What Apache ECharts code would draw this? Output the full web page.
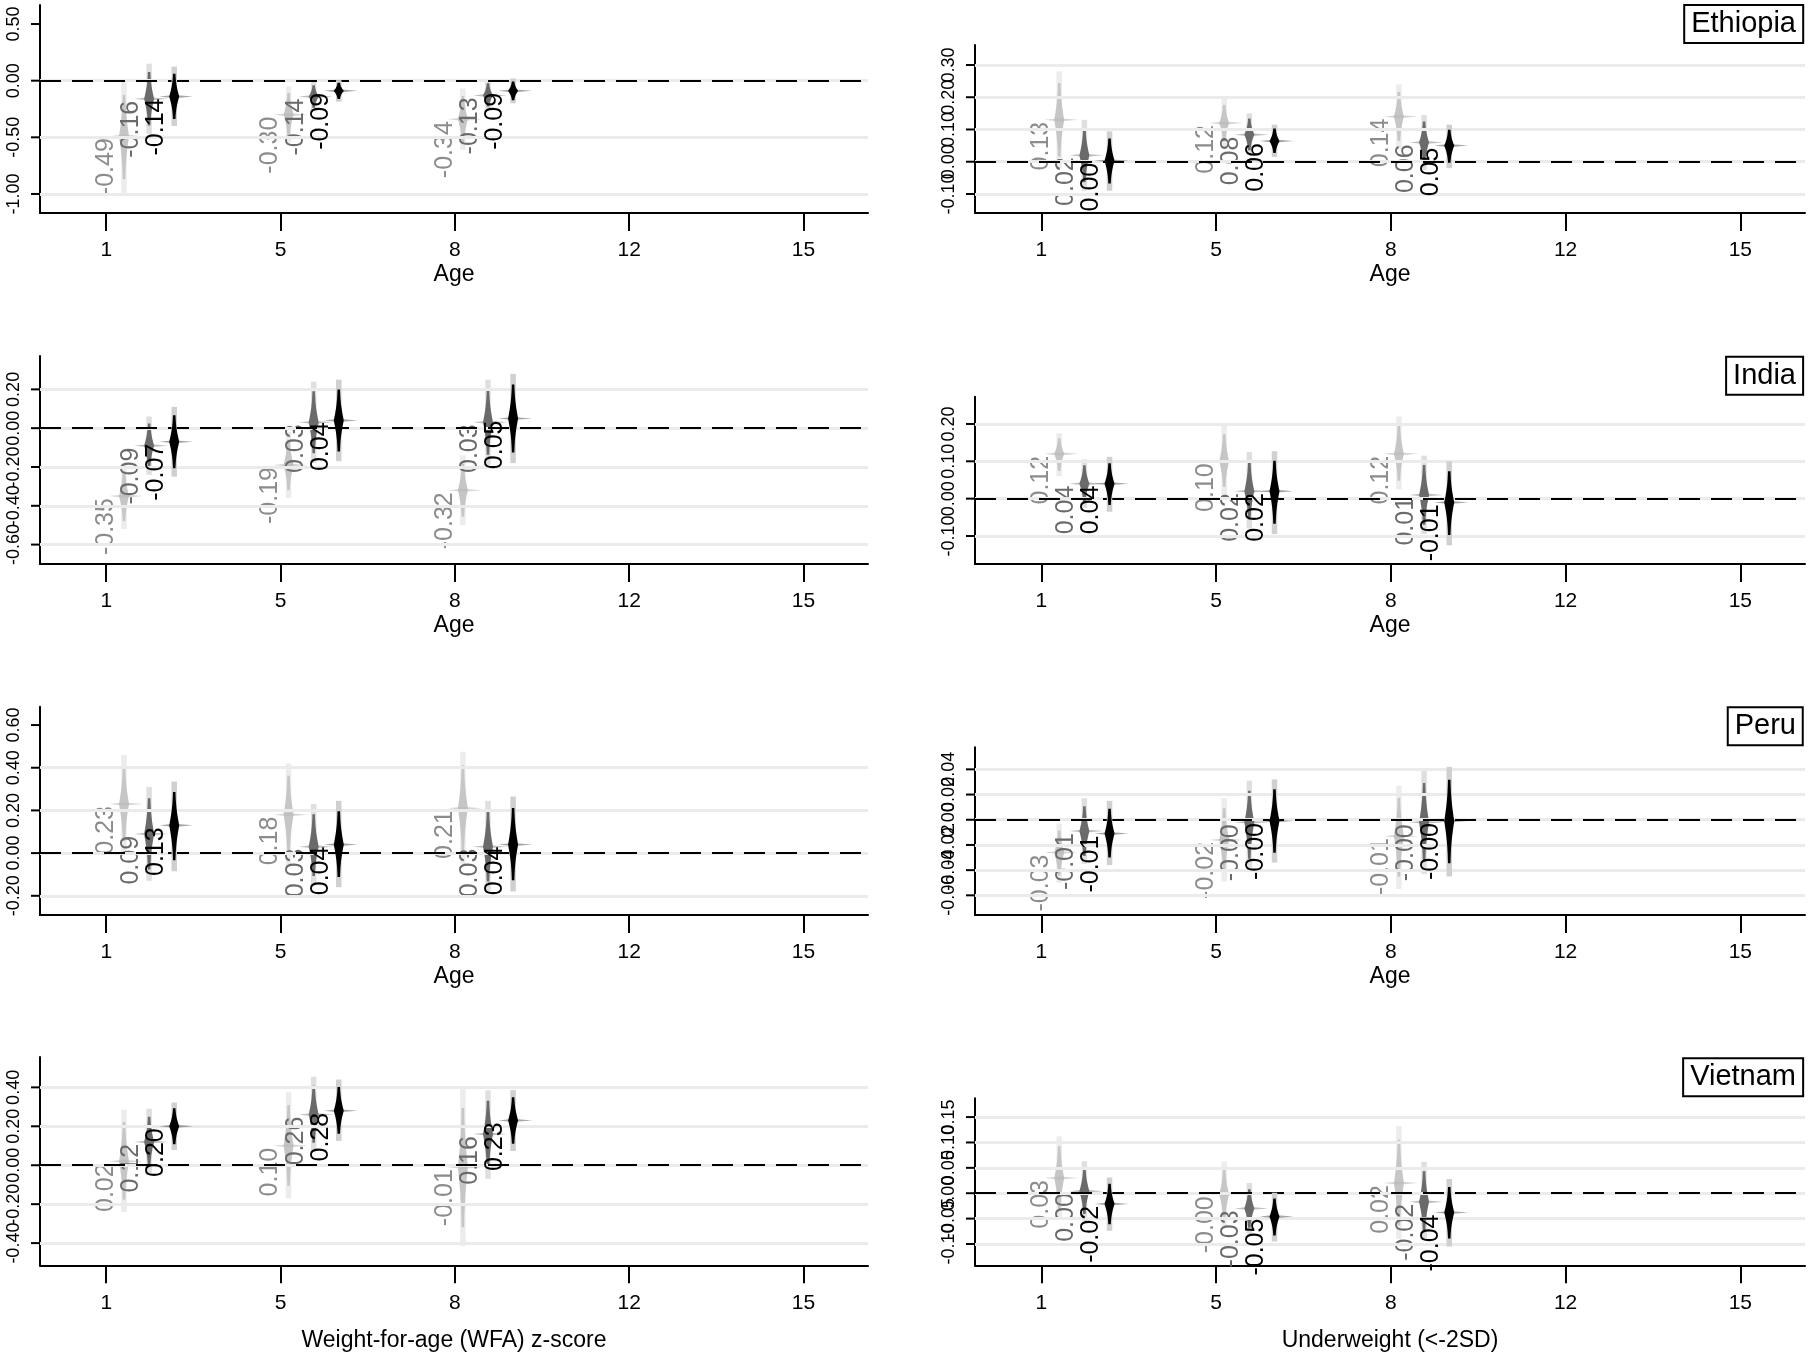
<!DOCTYPE html>
<html><head><meta charset="utf-8">
<script src="https://cdn.jsdelivr.net/npm/echarts@6/dist/echarts.min.js"></script>
<style>html,body{margin:0;padding:0;background:#fff}#main{width:1810px;height:1361px}</style>
</head><body><div id="main"></div>
<script>
// ---------------- DATA ----------------
const AGE_LABELS = ['1', '5', '8', '12', '15'];
const COUNTRIES = ['Ethiopia', 'India', 'Peru', 'Vietnam'];
const OUTCOMES = ['Weight-for-age (WFA) z-score', 'Underweight (<-2SD)'];
const SERIES_NAMES = ['Model 1', 'Model 2', 'Model 3'];

// rows: series (light, mid, dark); columns: ages 1, 5, 8
const ETH_WFA_EST = [[-0.49, -0.30, -0.34], [-0.16, -0.14, -0.13], [-0.14, -0.09, -0.09]];
const ETH_WFA_LO  = [[-0.99, -0.55, -0.61], [-0.47, -0.27, -0.26], [-0.40, -0.185, -0.20]];
const ETH_WFA_HI  = [[-0.01, -0.05, -0.07], [0.15, -0.01, 0.01], [0.124, 0.005, 0.02]];

const ETH_UW_EST = [[0.13, 0.12, 0.14], [0.02, 0.084, 0.06], [0.003, 0.064, 0.05]];
const ETH_UW_LO  = [[-0.02, 0.045, 0.04], [-0.09, 0.02, -0.025], [-0.09, 0.015, -0.02]];
const ETH_UW_HI  = [[0.28, 0.195, 0.24], [0.13, 0.15, 0.145], [0.094, 0.115, 0.115]];

const IND_WFA_EST = [[-0.35, -0.19, -0.32], [-0.09, 0.03, 0.03], [-0.07, 0.04, 0.05]];
const IND_WFA_LO  = [[-0.52, -0.36, -0.50], [-0.24, -0.18, -0.19], [-0.25, -0.17, -0.18]];
const IND_WFA_HI  = [[-0.18, -0.02, -0.14], [0.06, 0.24, 0.25], [0.11, 0.25, 0.28]];

const IND_UW_EST = [[0.12, 0.10, 0.12], [0.04, 0.02, 0.01], [0.04, 0.02, -0.01]];
const IND_UW_LO  = [[0.06, 0.01, 0.025], [-0.025, -0.08, -0.095], [-0.035, -0.095, -0.125]];
const IND_UW_HI  = [[0.175, 0.195, 0.22], [0.105, 0.125, 0.115], [0.112, 0.127, 0.10]];

const PER_WFA_EST = [[0.23, 0.18, 0.21], [0.09, 0.03, 0.03], [0.13, 0.04, 0.04]];
const PER_WFA_LO  = [[0.0, -0.06, -0.05], [-0.13, -0.15, -0.185], [-0.085, -0.16, -0.18]];
const PER_WFA_HI  = [[0.46, 0.42, 0.475], [0.31, 0.23, 0.245], [0.335, 0.245, 0.265]];

const PER_UW_EST = [[-0.026, -0.016, -0.013], [-0.009, -0.002, -0.002], [-0.011, -0.001, -0.001]];
const PER_UW_LO  = [[-0.05, -0.049, -0.055], [-0.035, -0.04, -0.043], [-0.036, -0.034, -0.045]];
const PER_UW_HI  = [[-0.003, 0.017, 0.027], [0.017, 0.031, 0.039], [0.015, 0.032, 0.042]];

const VNM_WFA_EST = [[0.02, 0.10, -0.01], [0.12, 0.26, 0.16], [0.20, 0.28, 0.23]];
const VNM_WFA_LO  = [[-0.24, -0.17, -0.415], [-0.05, 0.07, -0.07], [0.078, 0.125, 0.073]];
const VNM_WFA_HI  = [[0.285, 0.375, 0.39], [0.29, 0.455, 0.385], [0.322, 0.44, 0.386]];

const VNM_UW_EST = [[0.03, -0.002, 0.02], [0.004, -0.03, -0.017], [-0.021, -0.046, -0.038]];
const VNM_UW_LO  = [[-0.052, -0.066, -0.09], [-0.055, -0.08, -0.092], [-0.074, -0.095, -0.105]];
const VNM_UW_HI  = [[0.112, 0.062, 0.132], [0.063, 0.02, 0.062], [0.031, 0.001, 0.028]];

// y-axis tick labels, grid lines and ranges
const ETH_WFA_TICKS = [-1.00, -0.50, 0.00, 0.50];
const ETH_UW_TICKS = [-0.10, 0.00, 0.10, 0.20, 0.30];
const IND_WFA_TICKS = [-0.60, -0.40, -0.20, 0.00, 0.20];
const IND_UW_TICKS = [-0.10, 0.00, 0.10, 0.20];
const PER_WFA_TICKS = [-0.20, 0.00, 0.20, 0.40, 0.60];
const PER_UW_TICKS = [-0.06, -0.04, -0.02, 0.00, 0.02, 0.04];
const VNM_WFA_TICKS = [-0.40, -0.20, 0.00, 0.20, 0.40];
const VNM_UW_TICKS = [-0.10, -0.05, 0.00, 0.05, 0.10, 0.15];

const ETH_WFA_GRID = [-1.00, -0.50, 0.00];
const ETH_UW_GRID = [-0.10, 0.00, 0.10, 0.20, 0.30];
const IND_WFA_GRID = [-0.60, -0.40, -0.20, 0.00, 0.20];
const IND_UW_GRID = [-0.10, 0.00, 0.10, 0.20];
const PER_WFA_GRID = [-0.20, 0.00, 0.20, 0.40];
const PER_UW_GRID = [-0.06, -0.04, -0.02, 0.00, 0.02, 0.04];
const VNM_WFA_GRID = [-0.40, -0.20, 0.00, 0.20, 0.40];
const VNM_UW_GRID = [-0.10, -0.05, 0.00, 0.05, 0.10, 0.15];

const ETH_WFA_RANGE = [-1.168, 0.668];
const ETH_UW_RANGE = [-0.159, 0.362];
const IND_WFA_RANGE = [-0.70, 0.372];
const IND_UW_RANGE = [-0.175, 0.273];
const PER_WFA_RANGE = [-0.29, 0.686];
const PER_UW_RANGE = [-0.0756, 0.0575];
const VNM_WFA_RANGE = [-0.514, 0.556];
const VNM_UW_RANGE = [-0.142, 0.187];

// ---------------- LAYOUT / STYLE ----------------
const FONT = "'Liberation Sans', Arial, Helvetica, sans-serif";
const X_RANGE = [-0.38, 4.37];
const AGE_SHIFT = [0.102, 0.046, 0.046];
const SERIES_STEP = 0.144;
const BAND_W = 5.5, W_MIN = 2.5, W_MAX = 10, LABEL_GAP = 18;
const VALUE_FONT_SIZE = 25, YTICK_FONT_SIZE = 18, YTICK_LEN = 9, YLABEL_OFFSET = 26;
const Z95 = 1.96, Z99 = 2.576;
const MARK_STYLE = [
  { band: '#ececec', spindle: '#c6c6c6', spike: 'rgba(185,185,185,0.6)', label: '#8c8c8c' },
  { band: '#dfdfdf', spindle: '#6a6a6a', spike: 'rgba(110,110,110,0.45)', label: '#6a6a6a' },
  { band: '#d0d0d0', spindle: '#000000', spike: 'rgba(0,0,0,0.35)', label: '#000000' }
];
const COL_LEFT = [40, 975], COL_WIDTH = [828, 830];
const ROW_BOX = [
  [[5, 213], [45, 213]],
  [[356, 564], [396.7, 564]],
  [[706.7, 915], [747.3, 915]],
  [[1057, 1265.3], [1098.3, 1265.3]]
];

const PANELS = [
  { est: ETH_WFA_EST, lo: ETH_WFA_LO, hi: ETH_WFA_HI, ticks: ETH_WFA_TICKS, grid: ETH_WFA_GRID, range: ETH_WFA_RANGE },
  { est: ETH_UW_EST, lo: ETH_UW_LO, hi: ETH_UW_HI, ticks: ETH_UW_TICKS, grid: ETH_UW_GRID, range: ETH_UW_RANGE },
  { est: IND_WFA_EST, lo: IND_WFA_LO, hi: IND_WFA_HI, ticks: IND_WFA_TICKS, grid: IND_WFA_GRID, range: IND_WFA_RANGE },
  { est: IND_UW_EST, lo: IND_UW_LO, hi: IND_UW_HI, ticks: IND_UW_TICKS, grid: IND_UW_GRID, range: IND_UW_RANGE },
  { est: PER_WFA_EST, lo: PER_WFA_LO, hi: PER_WFA_HI, ticks: PER_WFA_TICKS, grid: PER_WFA_GRID, range: PER_WFA_RANGE },
  { est: PER_UW_EST, lo: PER_UW_LO, hi: PER_UW_HI, ticks: PER_UW_TICKS, grid: PER_UW_GRID, range: PER_UW_RANGE },
  { est: VNM_WFA_EST, lo: VNM_WFA_LO, hi: VNM_WFA_HI, ticks: VNM_WFA_TICKS, grid: VNM_WFA_GRID, range: VNM_WFA_RANGE },
  { est: VNM_UW_EST, lo: VNM_UW_LO, hi: VNM_UW_HI, ticks: VNM_UW_TICKS, grid: VNM_UW_GRID, range: VNM_UW_RANGE }
];

function erf(x) {
  const s = x < 0 ? -1 : 1; x = Math.abs(x);
  const t = 1 / (1 + 0.3275911 * x);
  const y = 1 - (((((1.061405429 * t - 1.453152027) * t) + 1.421413741) * t - 0.284496736) * t + 0.254829592) * t * Math.exp(-x * x);
  return s * y;
}
function halfW(d) {
  const lvl = erf(Z95 * d / Math.SQRT2);
  return (W_MIN + (W_MAX - W_MIN) * Math.max(0, 1 - lvl / 0.95)) / 2;
}
function makeRender(k) {
  const st = MARK_STYLE[k];
  return function (params, api) {
    const xv = api.value(0), est = api.value(1), lo = api.value(2), hi = api.value(3);
    const p = api.coord([xv, est]);
    const x = p[0], y = p[1];
    const yHi = api.coord([xv, hi])[1], yLo = api.coord([xv, lo])[1];
    const up = (y - yHi) * Z95 / Z99, dn = (yLo - y) * Z95 / Z99;
    const N = 30, pts = [];
    for (let i = N; i >= 0; i--) { const d = i / N; pts.push([x + halfW(d), y - up * d]); }
    for (let i = 1; i <= N; i++) { const d = i / N; pts.push([x + halfW(d), y + dn * d]); }
    for (let i = N; i >= 0; i--) { const d = i / N; pts.push([x - halfW(d), y + dn * d]); }
    for (let i = 1; i <= N; i++) { const d = i / N; pts.push([x - halfW(d), y - up * d]); }
    return {
      type: 'group', children: [
        { type: 'rect', shape: { x: x - BAND_W / 2, y: yHi, width: BAND_W, height: yLo - yHi }, style: { fill: st.band } },
        { type: 'polygon', shape: { points: pts }, style: { fill: st.spindle } },
        { type: 'polygon', shape: { points: [[x - 15, y], [x, y - 1.6], [x + 19, y], [x, y + 1.6]] }, style: { fill: st.spike } },
        { type: 'text', x: x - LABEL_GAP, y: y + 2, rotation: Math.PI / 2,
          style: { text: est.toFixed(2), fill: st.label, fontSize: VALUE_FONT_SIZE, fontFamily: FONT, align: 'right', verticalAlign: 'middle' } }
      ]
    };
  };
}
// y-axis tick marks + rotated tick labels placed through the y scale
function renderYTick(params, api) {
  const v = api.value(1);
  const p = api.coord([api.value(0), v]);
  return {
    type: 'group', children: [
      { type: 'line', shape: { x1: p[0] - YTICK_LEN, y1: p[1], x2: p[0], y2: p[1] }, style: { stroke: '#000', lineWidth: 2 } },
      { type: 'text', x: p[0] - YLABEL_OFFSET, y: p[1], rotation: Math.PI / 2,
        style: { text: v.toFixed(2), fill: '#000', fontSize: YTICK_FONT_SIZE, fontFamily: FONT, align: 'center', verticalAlign: 'middle' } }
    ]
  };
}

const grids = [], xAxes = [], yAxes = [], series = [], titles = [];
PANELS.forEach((pn, i) => {
  const row = Math.floor(i / 2), col = i % 2;
  const box = ROW_BOX[row][col];
  grids.push({ left: COL_LEFT[col], top: box[0], width: COL_WIDTH[col], height: box[1] - box[0] });
  const isLast = row === 3;
  xAxes.push({
    gridIndex: i, type: 'value', min: X_RANGE[0], max: X_RANGE[1],
    name: isLast ? OUTCOMES[col] : 'Age', nameLocation: 'middle', nameGap: isLast ? 64 : 50,
    nameTextStyle: { fontSize: 23, color: '#000', fontFamily: FONT },
    axisLine: { show: true, onZero: false, lineStyle: { color: '#000', width: 2 } },
    axisTick: { show: true, length: 18, lineStyle: { color: '#000', width: 2 }, customValues: [0, 1, 2, 3, 4] },
    axisLabel: { customValues: [0, 1, 2, 3, 4], formatter: v => AGE_LABELS[Math.round(v)], fontSize: 21, color: '#000', margin: 27, fontFamily: FONT, showMinLabel: true, showMaxLabel: true },
    splitLine: { show: false }
  });
  yAxes.push({
    gridIndex: i, type: 'value', min: pn.range[0], max: pn.range[1],
    axisLine: { show: true, onZero: false, lineStyle: { color: '#000', width: 2 } },
    axisTick: { show: false }, axisLabel: { show: false },
    splitLine: { show: false }
  });
  series.push({
    type: 'line', xAxisIndex: i, yAxisIndex: i, data: [], silent: true, z: 1, animation: false,
    markLine: {
      silent: true, symbol: ['none', 'none'], animation: false, label: { show: false },
      data: pn.grid.map(v => ({ yAxis: v, lineStyle: { color: '#ebebeb', width: 3, type: 'solid' } }))
        .concat([{ yAxis: 0, lineStyle: { color: '#000', width: 2, type: [21, 11] } }])
    }
  });
  series.push({
    type: 'custom', name: 'y ticks ' + i, xAxisIndex: i, yAxisIndex: i, z: 2, clip: false,
    silent: true, animation: false, renderItem: renderYTick,
    data: pn.ticks.map(v => [X_RANGE[0], v])
  });
  for (let k = 0; k < 3; k++) {
    const data = [0, 1, 2].map(a => [a + AGE_SHIFT[a] + k * SERIES_STEP, pn.est[k][a], pn.lo[k][a], pn.hi[k][a]]);
    series.push({
      type: 'custom', name: SERIES_NAMES[k], xAxisIndex: i, yAxisIndex: i, z: 3 + k,
      renderItem: makeRender(k), data: data, silent: true, animation: false, clip: false
    });
  }
  if (col === 1) {
    titles.push({
      text: COUNTRIES[row], right: 7, top: box[0] - 40,
      borderColor: '#000', borderWidth: 2, backgroundColor: '#fff', padding: [4, 7],
      textStyle: { fontSize: 29, fontWeight: 'normal', color: '#000', fontFamily: FONT, lineHeight: 30 }
    });
  }
});

const chart = echarts.init(document.getElementById('main'), null, { renderer: 'canvas' });
chart.setOption({
  animation: false,
  backgroundColor: '#fff',
  textStyle: { fontFamily: FONT },
  title: titles, grid: grids, xAxis: xAxes, yAxis: yAxes, series: series
});
</script></body></html>
